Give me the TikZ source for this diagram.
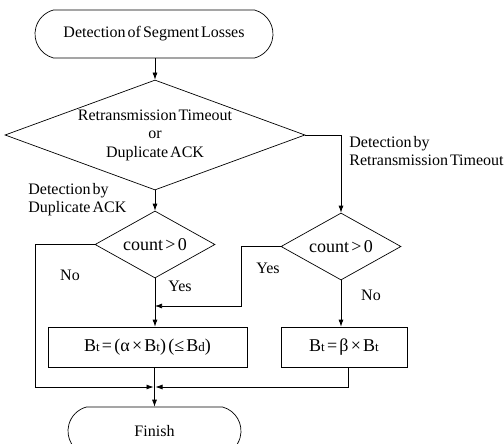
\documentclass[tikz,border=0pt]{standalone}
\usepackage{fontspec}
\setmainfont[WordSpace=0.5]{Liberation Serif}
\usetikzlibrary{shapes.geometric,shapes.misc,arrows.meta}

\begin{document}
\begin{tikzpicture}[x=1pt,y=-1pt,line width=0.7pt,
    every node/.style={font=\fontsize{16}{18.5}\selectfont},
    terminal/.style={draw,rounded rectangle,rounded rectangle arc length=150,minimum width=#1,minimum height=48pt,inner sep=0pt},
    decision/.style={draw,diamond,inner sep=0pt,aspect=2.7},
    process/.style={draw,rectangle,minimum height=40pt,inner sep=0pt,font=\fontsize{18}{20}\selectfont},
    big/.style={font=\fontsize{18}{20}\selectfont},
    flow/.style={-{Latex[length=7pt,width=5pt]}},
    lbl/.style={align=left,inner sep=0pt}]
    \useasboundingbox (0,0) rectangle (504,444);
    % shapes
    \node[terminal=238pt] (start) at (154,34) {Detection of Segment Losses};
    \node[decision,minimum width=300pt,minimum height=110pt,align=center] (dec) at (155,135) {Retransmission Timeout\\or\\Duplicate ACK};
    \node[decision,big,minimum width=120pt,minimum height=67pt] (dup) at (155,244.5) {count > 0};
    \node[decision,big,minimum width=120pt,minimum height=67pt] (rto) at (341,246.5) {count > 0};
    \node[process,minimum width=199pt] (upd) at (147.5,347) {B{\fontsize{13}{13}\selectfont t} = (α × B{\fontsize{13}{13}\selectfont t}) (≤ B{\fontsize{13}{13}\selectfont d})};
    \node[process,minimum width=126pt] (cut) at (344,347) {B{\fontsize{13}{13}\selectfont t} = β × B{\fontsize{13}{13}\selectfont t}};
    \node[terminal=173pt] (fin) at (154.5,431) {Finish};
    % corners of the connectors
    \coordinate (m) at (154.5,387);
    \coordinate (cl) at (35,387);
    \coordinate (cy) at (241,306);
    \coordinate (cr) at (348,387);
    % connectors
    \draw[flow] (dec.north |- start.south) -- (dec.north);
    \draw[flow] (dec.east) -| (rto.north);
    \draw[flow] (dec.south) -- (dup.north);
    \draw[flow,shorten >=1pt] (dup.west) -| (cl) -- (m);
    \draw[flow] (dup.south) -- (dup.south |- upd.north);
    \draw[flow] (rto.west) -| (cy) -- (cy -| dup.south);
    \draw[flow] (rto.south) -- (rto.south |- cut.north);
    \draw[flow] (upd.south -| m) -- (fin.north);
    \draw[flow,shorten >=1pt] (cr |- cut.south) -- (cr) -- (m);
    % labels
    \node[lbl,anchor=north west] (lrto) at (349,136) {Detection by\\Retransmission Timeout};
    \node[lbl,anchor=north west] (ldup) at (28,183) {Detection by\\Duplicate ACK};
    \node (no1) at (70,275) {No};
    \node (yes1) at (180,286) {Yes};
    \node (yes2) at (268,268) {Yes};
    \node (no2) at (371,295) {No};
\end{tikzpicture}
\end{document}
